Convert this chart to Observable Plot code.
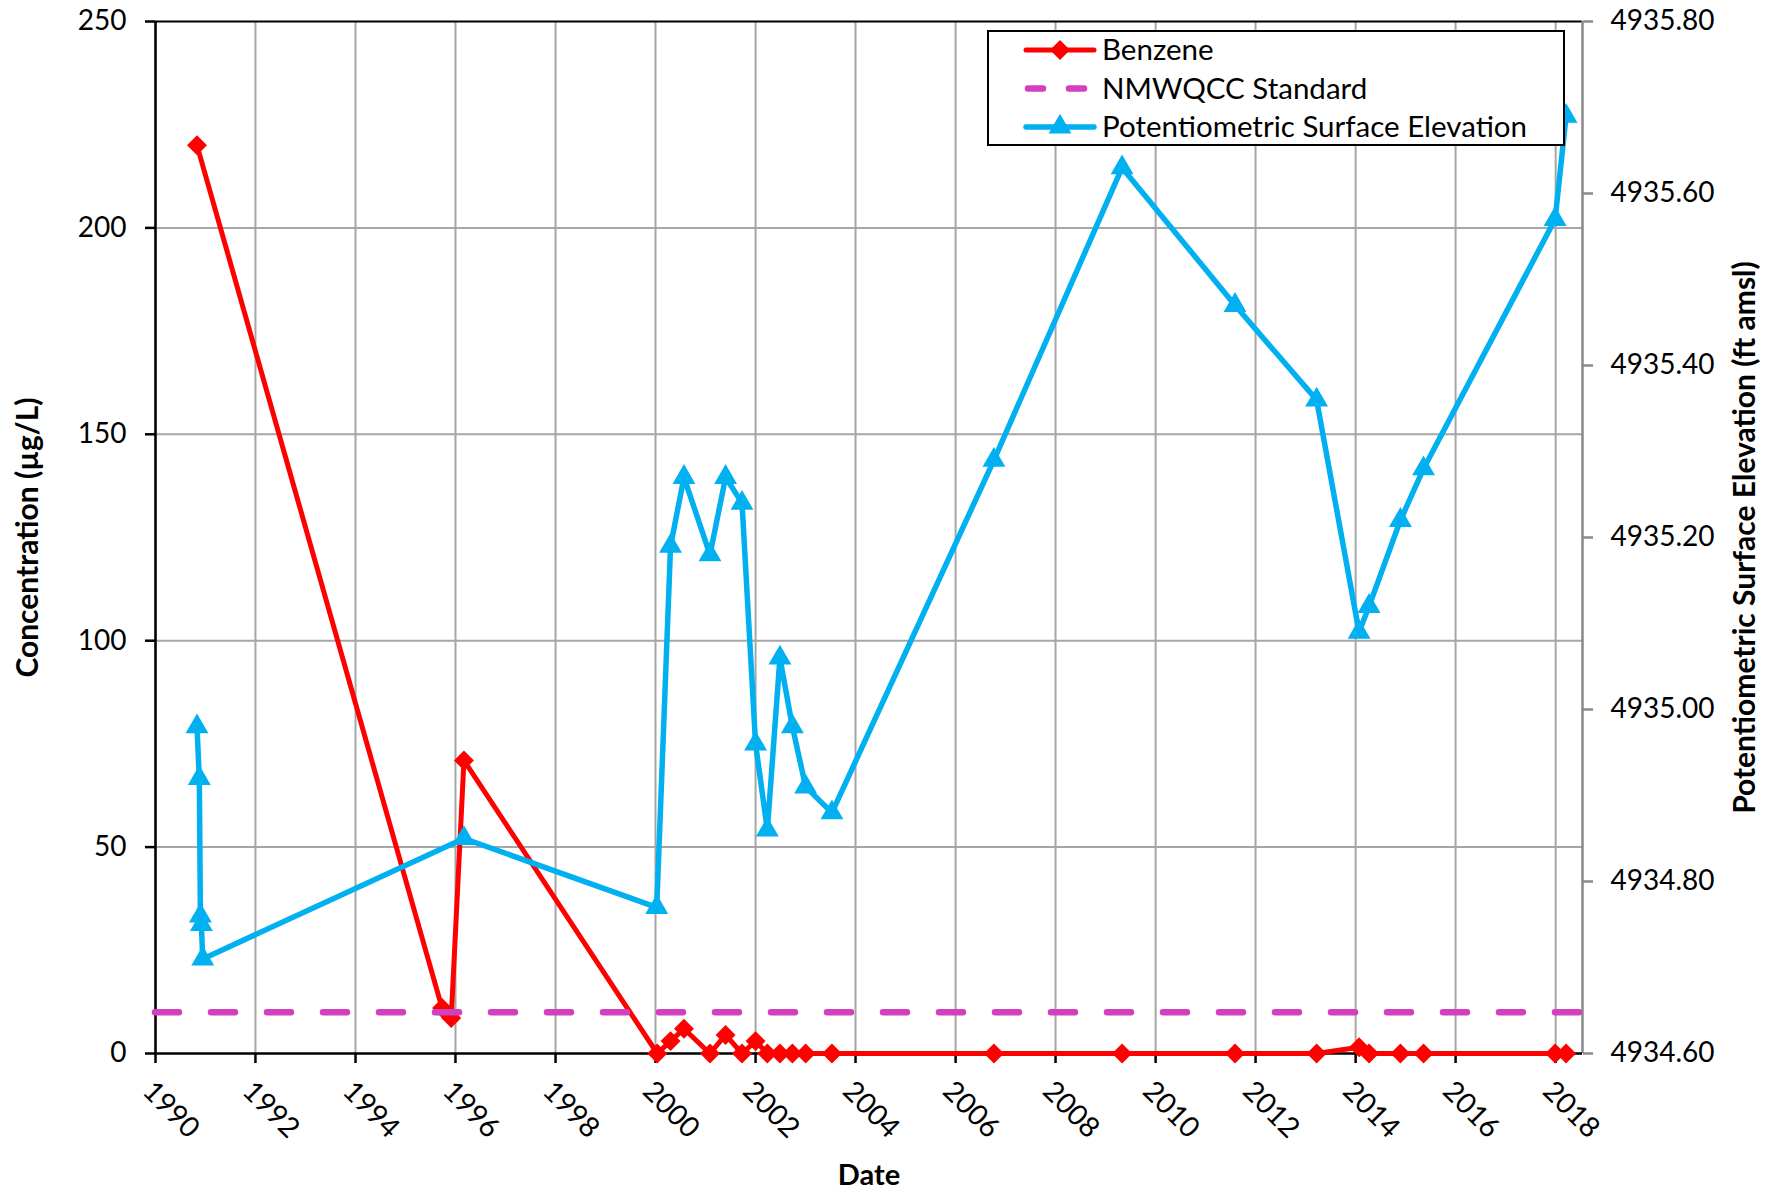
<!DOCTYPE html>
<html>
<head>
<meta charset="utf-8">
<script src="https://cdn.jsdelivr.net/npm/d3@7"></script>
<script src="https://cdn.jsdelivr.net/npm/@observablehq/plot@0.6"></script>
<style>
  html, body { margin: 0; padding: 0; background: #ffffff; }
  #chart { position: relative; width: 1776px; height: 1193px; font-family: Lato, "Noto Sans", sans-serif; }
  #chart > svg { display: block; }
  #legend { position: absolute; left: 987px; top: 30px; }
</style>
</head>
<body>
<div id="chart"></div>
<script>
// Benzene concentration samples (µg/L)
const benzeneDates = [
  "1990-10-31", "1995-09-25", "1995-12-01", "1996-03-03", "2000-01-14", "2000-04-20",
  "2000-07-27", "2001-02-02", "2001-05-27", "2001-09-24", "2002-01-01", "2002-03-28",
  "2002-06-28", "2002-09-27", "2003-01-02", "2003-07-13", "2006-10-08", "2009-05-01",
  "2011-08-04", "2013-03-22", "2014-01-26", "2014-04-09", "2014-11-24", "2015-05-12",
  "2017-12-28", "2018-03-18"
];
const benzeneValues = [
  220, 11, 8.6, 71, 0, 3,
  6, 0, 4.5, 0, 3, 0,
  0, 0, 0, 0, 0, 0,
  0, 0, 1.5, 0, 0, 0,
  0, 0
];

// Potentiometric surface elevation readings (ft amsl)
const elevationDates = [
  "1990-10-31", "1990-11-17", "1990-11-25", "1990-12-02", "1990-12-12", "1996-03-03",
  "2000-01-10", "2000-04-20", "2000-07-27", "2001-02-02", "2001-05-27", "2001-09-24",
  "2002-01-01", "2002-03-28", "2002-06-28", "2002-09-27", "2003-01-02", "2003-07-13",
  "2006-10-08", "2009-05-01", "2011-08-04", "2013-03-22", "2014-01-26", "2014-04-09",
  "2014-11-24", "2015-05-12", "2017-12-28", "2018-03-18"
];
const elevationValues = [
  4934.98, 4934.92, 4934.76, 4934.75, 4934.71, 4934.85,
  4934.77, 4935.19, 4935.27, 4935.18, 4935.27, 4935.24,
  4934.96, 4934.86, 4935.06, 4934.98, 4934.91, 4934.88,
  4935.29, 4935.63, 4935.47, 4935.36, 4935.09, 4935.12,
  4935.22, 4935.28, 4935.57, 4935.69
];

// NMWQCC groundwater standard for benzene (µg/L)
const nmwqccStandard = 10;

// Axis ticks
const xTickYears = [1990, 1992, 1994, 1996, 1998, 2000, 2002, 2004, 2006, 2008, 2010, 2012, 2014, 2016, 2018];
const concentrationTicks = [0, 50, 100, 150, 200, 250];
const elevationTicks = [4934.6, 4934.8, 4935.0, 4935.2, 4935.4, 4935.6, 4935.8];

const xDomain = [new Date("1990-01-01"), new Date("2018-07-16")];
const concDomain = [0, 250];
const elevDomain = [4934.6, 4935.8];

// The secondary (elevation) axis shares the primary y scale through a linear map
const toLeft = (e) => (e - elevDomain[0]) / (elevDomain[1] - elevDomain[0]) * (concDomain[1] - concDomain[0]) + concDomain[0];
const fromLeft = (v) => (v - concDomain[0]) / (concDomain[1] - concDomain[0]) * (elevDomain[1] - elevDomain[0]) + elevDomain[0];

const benzene = benzeneDates.map((d, i) => ({ date: new Date(d), value: benzeneValues[i] }));
const elevation = elevationDates.map((d, i) => ({ date: new Date(d), elev: elevationValues[i] }));
const xTicks = xTickYears.map((y) => new Date(Date.UTC(y, 0, 1)));

const RED = "#ff0000";
const BLUE = "#00b0f0";
const MAGENTA = "#d23fbf";
const GRID = "#a6a6a6";
const DIAMOND_R = 9;
const TRIANGLE_R = 8.5;
const RED_WIDTH = 5;
const BLUE_WIDTH = 5.5;

const chart = Plot.plot({
  width: 1776,
  height: 1193,
  marginLeft: 155,
  marginRight: 194,
  marginTop: 21,
  marginBottom: 140,
  style: { fontFamily: "Lato, 'Noto Sans', sans-serif", fontSize: "28px", color: "#000", background: "#fff" },
  x: { type: "utc", domain: xDomain },
  y: { domain: concDomain },
  marks: [
    // gridlines
    Plot.gridX({ ticks: xTicks, stroke: GRID, strokeOpacity: 1, strokeWidth: 2 }),
    Plot.gridY({ ticks: [50, 100, 150, 200], stroke: GRID, strokeOpacity: 1, strokeWidth: 2 }),

    // plot-area border / axis lines
    Plot.ruleY([concDomain[1]], { stroke: "#000", strokeWidth: 2 }),
    Plot.ruleX([xDomain[1]], { stroke: "#898989", strokeWidth: 2.5 }),
    Plot.ruleX([xDomain[0]], { stroke: "#000", strokeWidth: 2.5 }),
    Plot.ruleY([concDomain[0]], { stroke: "#000", strokeWidth: 2.5 }),

    // axes
    Plot.axisX({
      ticks: xTicks, tickFormat: d3.utcFormat("%Y"), tickSize: 10, tickPadding: 15,
      tickRotate: 45, textAnchor: "start", lineAnchor: "top",
      stroke: "#000", strokeWidth: 2.5, fontSize: 28.5, label: null
    }),
    Plot.axisY({
      anchor: "left", ticks: concentrationTicks, tickSize: 10, tickPadding: 19,
      stroke: "#000", strokeWidth: 2.5, fontSize: 28, label: null
    }),
    Plot.axisY({
      anchor: "right", ticks: elevationTicks.map(toLeft), tickFormat: (v) => fromLeft(v).toFixed(2),
      tickSize: 10, tickPadding: 18, stroke: "#898989", strokeWidth: 2.5, fontSize: 28, label: null
    }),

    // benzene series
    Plot.line(benzene, { x: "date", y: "value", stroke: RED, strokeWidth: RED_WIDTH }),
    Plot.dot(benzene, { x: "date", y: "value", symbol: "diamond2", r: DIAMOND_R, fill: RED, stroke: null }),

    // regulatory standard
    Plot.ruleY([nmwqccStandard], {
      stroke: MAGENTA, strokeWidth: 6.5, strokeDasharray: "24,32", strokeLinecap: "round"
    }),

    // potentiometric surface elevation series (secondary axis)
    Plot.line(elevation, { x: "date", y: (d) => toLeft(d.elev), stroke: BLUE, strokeWidth: BLUE_WIDTH }),
    Plot.dot(elevation, { x: "date", y: (d) => toLeft(d.elev), symbol: "triangle", r: TRIANGLE_R, fill: BLUE, stroke: null }),

    // axis titles
    Plot.text(["Concentration (µg/L)"], {
      frameAnchor: "left", dx: -127, rotate: -90, textAnchor: "middle", lineAnchor: "middle",
      fontSize: 30, fontWeight: "bold", fill: "#000"
    }),
    Plot.text(["Potentiometric Surface Elevation (ft amsl)"], {
      frameAnchor: "right", dx: 163, rotate: -90, textAnchor: "middle", lineAnchor: "middle",
      fontSize: 30, fontWeight: "bold", fill: "#000"
    }),
    Plot.text(["Date"], {
      frameAnchor: "bottom", dy: 122, textAnchor: "middle", lineAnchor: "middle",
      fontSize: 29, fontWeight: "bold", fill: "#000"
    })
  ]
});

const container = document.getElementById("chart");
container.appendChild(chart);

// Legend box drawn over the plot area
const legendItems = [
  { label: "Benzene", color: RED, kind: "diamond" },
  { label: "NMWQCC Standard", color: MAGENTA, kind: "dash" },
  { label: "Potentiometric Surface Elevation", color: BLUE, kind: "triangle" }
];
const lw = 578, lh = 116;
const legend = d3.create("svg")
  .attr("id", "legend")
  .attr("width", lw)
  .attr("height", lh)
  .style("font-family", "Lato, 'Noto Sans', sans-serif");
legend.append("rect")
  .attr("x", 1).attr("y", 1).attr("width", lw - 2).attr("height", lh - 2)
  .attr("fill", "#fff").attr("stroke", "#000").attr("stroke-width", 2);
const rowY = [20, 58.5, 97];
legendItems.forEach((item, i) => {
  const g = legend.append("g").attr("transform", `translate(0,${rowY[i]})`);
  if (item.kind === "dash") {
    g.append("line").attr("x1", 41).attr("x2", 97).attr("y1", 0).attr("y2", 0)
      .attr("stroke", item.color).attr("stroke-width", 6.5)
      .attr("stroke-dasharray", "15,26").attr("stroke-linecap", "round");
  } else {
    g.append("line").attr("x1", 39).attr("x2", 107).attr("y1", 0).attr("y2", 0)
      .attr("stroke", item.color).attr("stroke-width", item.kind === "diamond" ? RED_WIDTH : BLUE_WIDTH)
      .attr("stroke-linecap", "round");
    const sym = item.kind === "diamond" ? d3.symbolDiamond2 : d3.symbolTriangle;
    const r = item.kind === "diamond" ? DIAMOND_R : TRIANGLE_R;
    g.append("path")
      .attr("transform", "translate(73,0)")
      .attr("d", d3.symbol(sym, r * r * Math.PI)())
      .attr("fill", item.color);
  }
  g.append("text")
    .attr("x", 115).attr("y", 0).attr("dy", "0.35em")
    .attr("font-size", 29.5).attr("fill", "#000")
    .text(item.label);
});
container.appendChild(legend.node());
</script>
</body>
</html>
